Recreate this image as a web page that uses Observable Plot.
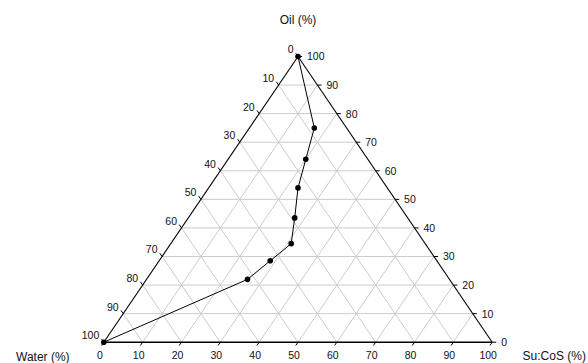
<!DOCTYPE html>
<html>
<head>
<meta charset="utf-8">
<script src="https://cdn.jsdelivr.net/npm/d3@7"></script>
<script src="https://cdn.jsdelivr.net/npm/@observablehq/plot@0.6"></script>
<style>
  html, body { margin: 0; padding: 0; background: #fff; }
  #chart svg { display: block; }
</style>
</head>
<body>
<div id="chart"></div>
<script>
// Composition data (percent)
const oil   = [100, 75, 64, 54, 43.5, 34.5, 28.5, 22, 0];
const sucos = [0, 16.7, 20, 23, 27.4, 31, 28.6, 26, 0];
const water = [0, 8.3, 16, 23, 29.1, 34.5, 42.9, 52, 100];

const tickValues = [0, 10, 20, 30, 40, 50, 60, 70, 80, 90, 100];
const gridValues = [10, 20, 30, 40, 50, 60, 70, 80, 90];

const axisTitles = [
  {label: "Oil (%)"},
  {label: "Water (%)"},
  {label: "Su:CoS (%)"}
];

// ternary -> cartesian (x: 0..100 along base, y: oil 0..100)
const tx = (o, s) => s + o / 2;
const ty = (o) => o;

const pts = oil.map((o, i) => ({x: tx(o, sucos[i]), y: ty(o), w: water[i]}));

// grid lines
const grid = [];
for (const t of gridValues) {
  grid.push({x1: tx(t, 0), y1: t, x2: tx(t, 100 - t), y2: t});               // const oil
  grid.push({x1: tx(0, t), y1: 0, x2: tx(100 - t, t), y2: 100 - t});           // const Su:CoS
  grid.push({x1: tx(0, 100 - t), y1: 0, x2: tx(100 - t, 0), y2: 100 - t});     // const water
}

const frameSides = [
  {x1: 0, y1: 0, x2: 50, y2: 100},
  {x1: 100, y1: 0, x2: 50, y2: 100}
];
const frameBase = [{x1: 0, y1: 0, x2: 100, y2: 0}];

// tick marks (short extensions of the grid outside the triangle)
const k = 1.15;
const ticks = [];
for (const t of tickValues) {
  ticks.push({x1: tx(0, t), y1: 0, x2: tx(0, t) - 0.5 * k, y2: -k});                          // bottom: Su:CoS
  ticks.push({x1: tx(t, 100 - t), y1: t, x2: tx(t, 100 - t) + 1.05, y2: t});                  // right: Oil
  ticks.push({x1: tx(100 - t, 0), y1: 100 - t, x2: tx(100 - t, 0) - 0.5 * k, y2: 100 - t + k}); // left: Water
}

const bottomLabels = tickValues.map(t => ({x: tx(0, t), y: 0, label: String(t)}));
const rightLabels = tickValues.map(t => ({x: tx(t, 100 - t), y: t, label: String(t)}));
const leftLabels = tickValues.map(t => ({x: tx(100 - t, 0), y: 100 - t, label: String(t)}));

const font = "Arial, 'Liberation Sans', sans-serif";

const chart = Plot.plot({
  width: 588,
  height: 363,
  marginLeft: 103.3,
  marginRight: 96.3,
  marginTop: 56,
  marginBottom: 21.3,
  x: {domain: [0, 100], axis: null},
  y: {domain: [0, 100], axis: null},
  style: {fontFamily: font, background: "#fff", overflow: "visible"},
  marks: [
    Plot.link(grid, {x1: "x1", y1: "y1", x2: "x2", y2: "y2", stroke: "#cccccc", strokeWidth: 1}),
    Plot.link(frameSides, {x1: "x1", y1: "y1", x2: "x2", y2: "y2", stroke: "#000", strokeWidth: 1.1}),
    Plot.link(frameBase, {x1: "x1", y1: "y1", x2: "x2", y2: "y2", stroke: "#000", strokeWidth: 1.6}),
    Plot.link(ticks, {x1: "x1", y1: "y1", x2: "x2", y2: "y2", stroke: "#000", strokeWidth: 1}),
    Plot.text(bottomLabels, {x: "x", y: "y", text: "label", dx: -4, dy: 13, fontSize: 10.5, fill: "#111"}),
    Plot.text(rightLabels, {x: "x", y: "y", text: "label", dx: 9, dy: 0.5, textAnchor: "start", fontSize: 10.5, fill: "#111"}),
    Plot.text(leftLabels, {x: "x", y: "y", text: "label", dx: -4.5, dy: -6.5, textAnchor: "end", fontSize: 10.5, fill: "#111"}),
    Plot.line(pts, {x: "x", y: "y", stroke: "#000", strokeWidth: 1}),
    Plot.dot(pts, {x: "x", y: "y", r: 2.8, fill: "#000", stroke: "none"}),
    Plot.text([axisTitles[0]], {x: () => 50, y: () => 100, text: "label", dy: -36, fontSize: 12, fill: "#111"}),
    Plot.text([axisTitles[1]], {x: () => 0, y: () => 0, text: "label", dx: -61, dy: 14.5, fontSize: 12, fill: "#111"}),
    Plot.text([axisTitles[2]], {x: () => 100, y: () => 0, text: "label", dx: 62, dy: 14, fontSize: 12, fill: "#111"})
  ]
});

document.getElementById("chart").appendChild(chart);
</script>
</body>
</html>
